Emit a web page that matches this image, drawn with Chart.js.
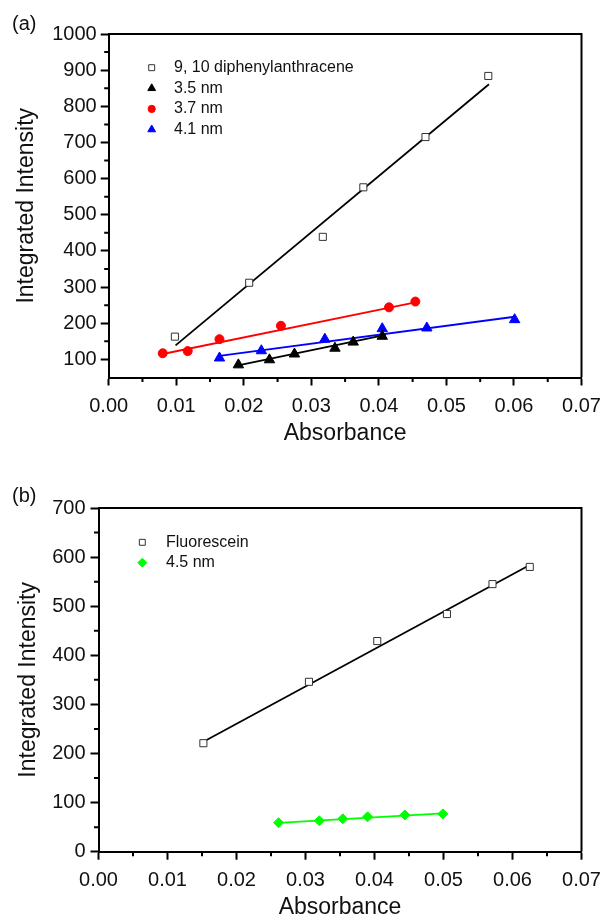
<!DOCTYPE html>
<html><head><meta charset="utf-8">
<script src="https://cdn.jsdelivr.net/npm/chart.js@4.4.0/dist/chart.umd.min.js"></script>
<style>
html,body{margin:0;padding:0;background:#fff;width:603px;height:919px;overflow:hidden}
canvas{position:absolute;left:0}
#ca{top:0}
#cb{top:455px}
</style></head><body>
<canvas id="ca" width="603" height="455"></canvas>
<canvas id="cb" width="603" height="464"></canvas>
<script>
// ---------- tick labels ----------
const xTicks = [0.00, 0.01, 0.02, 0.03, 0.04, 0.05, 0.06, 0.07];
const xMinorTicks = [0.005, 0.015, 0.025, 0.035, 0.045, 0.055, 0.065];
const yTicksA = [100, 200, 300, 400, 500, 600, 700, 800, 900, 1000];
const yMinorTicksA = [150, 250, 350, 450, 550, 650, 750, 850, 950];
const yTicksB = [0, 100, 200, 300, 400, 500, 600, 700];
const yMinorTicksB = [50, 150, 250, 350, 450, 550, 650];

// ---------- panel (a) ----------
const seriesNamesA = ['9, 10 diphenylanthracene', '3.5 nm', '3.7 nm', '4.1 nm'];
const dpaX = [0.0098, 0.0208, 0.0317, 0.0377, 0.0469, 0.0562];
const dpaY = [163, 312, 439, 576, 715, 884];
const dpaFitX = [0.0099, 0.0563];
const dpaFitY = [139, 861];

const nm35X = [0.0192, 0.0238, 0.0275, 0.0335, 0.0362, 0.0405];
const nm35Y = [85, 99, 115, 131, 148, 164];
const nm35FitX = [0.0188, 0.0410];
const nm35FitY = [82, 168];

const nm37X = [0.0080, 0.0117, 0.0164, 0.0255, 0.0415, 0.0454];
const nm37Y = [117, 123, 156, 193, 244, 260];
const nm37FitX = [0.0080, 0.0454];
const nm37FitY = [115, 258];

const nm41X = [0.0164, 0.0226, 0.0320, 0.0405, 0.0471, 0.0601];
const nm41Y = [104, 124, 156, 185, 187, 210];
const nm41FitX = [0.0164, 0.0601];
const nm41FitY = [110, 218];

// ---------- panel (b) ----------
const seriesNamesB = ['Fluorescein', '4.5 nm'];
const fluoX = [0.0152, 0.0305, 0.0404, 0.0505, 0.0571, 0.0625];
const fluoY = [221, 346, 429, 484, 545, 580];
const fluoFitX = [0.0152, 0.0625];
const fluoFitY = [224, 584];

const nm45X = [0.0261, 0.0320, 0.0354, 0.0390, 0.0444, 0.0499];
const nm45Y = [59, 63, 67, 71, 75, 77];
const nm45FitX = [0.0261, 0.0499];
const nm45FitY = [58.5, 78];

// ---------- helpers ----------
const FONT = "'Liberation Sans', Arial, Helvetica, sans-serif";
Chart.defaults.font.family = FONT;
Chart.defaults.color = '#111';

const pts = (xs, ys) => xs.map((x, i) => ({x: x, y: ys[i]}));

function scatterSet(xs, ys, style, radius, fill, stroke) {
  return {data: pts(xs, ys), pointStyle: style, pointRadius: radius, pointHoverRadius: radius,
    backgroundColor: fill, borderColor: stroke, pointBorderWidth: 1, showLine: false, order: 1};
}
function fitSet(xs, ys, color) {
  return {data: pts(xs, ys), showLine: true, pointRadius: 0, pointHoverRadius: 0,
    borderColor: color, borderWidth: 1.8, backgroundColor: color, order: 2};
}

function framePlugin(cfg) {
  return {
    id: 'frame' + cfg.id,
    afterDraw(chart) {
      const ctx = chart.ctx, a = chart.chartArea;
      const xs = chart.scales.x, ys = chart.scales.y;
      ctx.save();
      ctx.strokeStyle = '#000';
      ctx.lineWidth = 2;
      ctx.beginPath();
      ctx.moveTo(a.left, a.top); ctx.lineTo(a.right, a.top); ctx.lineTo(a.right, a.bottom);
      ctx.stroke();
      // minor ticks
      ctx.beginPath();
      cfg.xMinor.forEach(v => { const p = xs.getPixelForValue(v); ctx.moveTo(p, a.bottom); ctx.lineTo(p, a.bottom + 4.5); });
      cfg.yMinor.forEach(v => { const p = ys.getPixelForValue(v); ctx.moveTo(a.left, p); ctx.lineTo(a.left - 4.5, p); });
      ctx.stroke();
      // legend
      ctx.font = '16px ' + FONT;
      ctx.textBaseline = 'middle';
      ctx.textAlign = 'left';
      cfg.legend.forEach((it, i) => {
        const y = cfg.legendY + i * cfg.legendDy;
        ctx.fillStyle = it.fill; ctx.strokeStyle = it.stroke; ctx.lineWidth = 1;
        Chart.helpers.drawPoint(ctx, {pointStyle: it.style, radius: it.r, rotation: 0, borderWidth: 1}, cfg.legendMarkX, y);
        ctx.fillStyle = '#111';
        ctx.fillText(it.label, cfg.legendTextX, y);
      });
      // panel label
      ctx.font = '20px ' + FONT;
      ctx.fillStyle = '#111';
      ctx.fillText(cfg.panel, 12, cfg.panelY);
      ctx.restore();
    }
  };
}

function makeOptions(o) {
  return {
    responsive: false, animation: false, devicePixelRatio: 1,
    layout: {padding: {top: o.top, right: 21.5, left: 0, bottom: 0}},
    plugins: {legend: {display: false}, tooltip: {enabled: false}},
    elements: {line: {tension: 0}},
    scales: {
      x: {
        type: 'linear', min: 0, max: 0.07,
        afterBuildTicks: s => { s.ticks = xTicks.map(v => ({value: v})); },
        afterFit: s => { s.height = o.xHeight; s.paddingLeft = 0; s.paddingRight = 0; },
        ticks: {autoSkip: false, maxRotation: 0, padding: 9, font: {size: 20}, color: '#111',
          callback: v => Number(v).toFixed(2)},
        grid: {drawOnChartArea: false, drawTicks: true, tickLength: 8, tickColor: '#000', tickWidth: 2},
        border: {display: true, color: '#000', width: 2},
        title: {display: true, text: 'Absorbance', color: '#111', font: {size: 23, lineHeight: 1},
          padding: {top: 0, bottom: o.xTitlePad}}
      },
      y: {
        type: 'linear', min: o.yMin, max: o.yMax,
        afterBuildTicks: s => { s.ticks = o.yTicks.map(v => ({value: v})); },
        afterFit: s => { s.width = o.yWidth; s.paddingTop = 0; s.paddingBottom = 0; },
        ticks: {autoSkip: false, padding: o.yPad, font: {size: 20}, color: '#111',
          callback: v => String(v)},
        grid: {drawOnChartArea: false, drawTicks: true, tickLength: 8, tickColor: '#000', tickWidth: 2},
        border: {display: true, color: '#000', width: 2},
        title: {display: true, text: 'Integrated Intensity', color: '#111', font: {size: 23, lineHeight: 1},
          padding: {top: o.yTitlePad, bottom: 0}}
      }
    }
  };
}

// ---------- chart (a) ----------
new Chart(document.getElementById('ca'), {
  type: 'scatter',
  data: {datasets: [
    fitSet(dpaFitX, dpaFitY, '#000'),
    fitSet(nm35FitX, nm35FitY, '#000'),
    fitSet(nm37FitX, nm37FitY, '#ff0000'),
    fitSet(nm41FitX, nm41FitY, '#0000ff'),
    Object.assign(scatterSet(dpaX, dpaY, 'rect', 5, '#fff', '#333'), {label: seriesNamesA[0]}),
    Object.assign(scatterSet(nm35X, nm35Y, 'triangle', 6, '#000', '#000'), {label: seriesNamesA[1]}),
    Object.assign(scatterSet(nm37X, nm37Y, 'circle', 4.5, '#ff0000', '#ff0000'), {label: seriesNamesA[2]}),
    Object.assign(scatterSet(nm41X, nm41Y, 'triangle', 6, '#0000ff', '#0000ff'), {label: seriesNamesA[3]})
  ]},
  options: makeOptions({top: 34, xHeight: 77.5, xTitlePad: 9.5, yMin: 50, yMax: 1000, yTicks: yTicksA,
    yWidth: 108.7, yPad: 4, yTitlePad: 15.5}),
  plugins: [framePlugin({id: 'a', xMinor: xMinorTicks, yMinor: yMinorTicksA, panel: '(a)', panelY: 24,
    legendY: 67.7, legendDy: 20.6, legendMarkX: 151.7, legendTextX: 174,
    legend: [
      {label: seriesNamesA[0], style: 'rect', r: 4.2, fill: '#fff', stroke: '#333'},
      {label: seriesNamesA[1], style: 'triangle', r: 4.5, fill: '#000', stroke: '#000'},
      {label: seriesNamesA[2], style: 'circle', r: 3.6, fill: '#ff0000', stroke: '#ff0000'},
      {label: seriesNamesA[3], style: 'triangle', r: 4.5, fill: '#0000ff', stroke: '#0000ff'}
    ]})]
});

// ---------- chart (b) ----------
new Chart(document.getElementById('cb'), {
  type: 'scatter',
  data: {datasets: [
    fitSet(fluoFitX, fluoFitY, '#000'),
    fitSet(nm45FitX, nm45FitY, '#00ff00'),
    Object.assign(scatterSet(fluoX, fluoY, 'rect', 5, '#fff', '#333'), {label: seriesNamesB[0]}),
    Object.assign(scatterSet(nm45X, nm45Y, 'rectRot', 5, '#00ff00', '#00ff00'), {label: seriesNamesB[1]})
  ]},
  options: makeOptions({top: 53, xHeight: 67.3, xTitlePad: 0, yMin: 0, yMax: 700, yTicks: yTicksB,
    yWidth: 98.5, yPad: 5, yTitlePad: 17}),
  plugins: [framePlugin({id: 'b', xMinor: xMinorTicks, yMinor: yMinorTicksB, panel: '(b)', panelY: 41.5,
    legendY: 87.3, legendDy: 20.4, legendMarkX: 142.3, legendTextX: 166,
    legend: [
      {label: seriesNamesB[0], style: 'rect', r: 4.2, fill: '#fff', stroke: '#333'},
      {label: seriesNamesB[1], style: 'rectRot', r: 4.5, fill: '#00ff00', stroke: '#00ff00'}
    ]})]
});
</script>
</body></html>
